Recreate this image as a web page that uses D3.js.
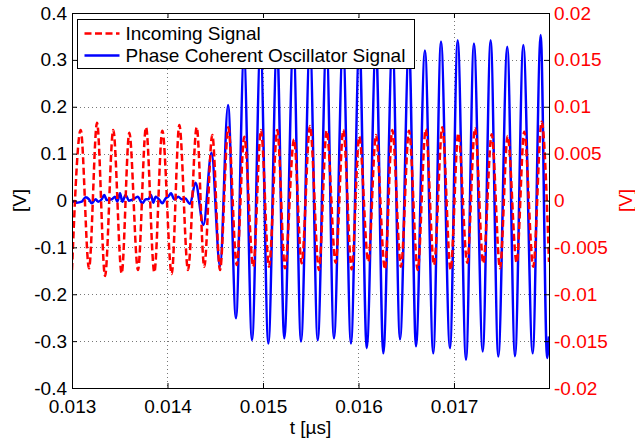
<!DOCTYPE html>
<html>
<head>
<meta charset="utf-8">
<script src="https://cdn.jsdelivr.net/npm/d3@7"></script>
<style>
  body { margin: 0; background: #fff; }
  svg { display: block; font-family: "Liberation Sans", Arial, Helvetica, sans-serif; }
</style>
</head>
<body>
<svg id="chart" width="635" height="439"></svg>
<script>
// x ticks (t in µs) and the two y axes
const xTicks = [0.013, 0.014, 0.015, 0.016, 0.017];
const leftTicks = [-0.4, -0.3, -0.2, -0.1, 0, 0.1, 0.2, 0.3, 0.4];
const rightTicks = [-0.02, -0.015, -0.01, -0.005, 0, 0.005, 0.01, 0.015, 0.02];

// Incoming signal (right axis), peaks and troughs
const incomingSignal = [
  [0.013000, -0.00741], [0.013091, 0.00752], [0.013178, -0.00723], [0.013262, 0.00830],
  [0.013346, -0.00805], [0.013432, 0.00752], [0.013520, -0.00777], [0.013600, 0.00723],
  [0.013691, -0.00741], [0.013775, 0.00781], [0.013862, -0.00766], [0.013946, 0.00745],
  [0.014044, -0.00784], [0.014124, 0.00805], [0.014215, -0.00741], [0.014306, 0.00781],
  [0.014385, -0.00706], [0.014469, 0.00699], [0.014550, -0.00741], [0.014637, 0.00781],
  [0.014725, -0.00688], [0.014804, 0.00681], [0.014898, -0.00706], [0.014979, 0.00752],
  [0.015063, -0.00706], [0.015150, 0.00752], [0.015230, -0.00723], [0.015325, 0.00653],
  [0.015405, -0.00670], [0.015492, 0.00795], [0.015586, -0.00741], [0.015667, 0.00745],
  [0.015761, -0.00663], [0.015841, 0.00752], [0.015929, -0.00734], [0.016008, 0.00681],
  [0.016103, -0.00653], [0.016183, 0.00699], [0.016277, -0.00734], [0.016354, 0.00752],
  [0.016445, -0.00706], [0.016529, 0.00745], [0.016620, -0.00741], [0.016704, 0.00760],
  [0.016791, -0.00688], [0.016878, 0.00781], [0.016965, -0.00741], [0.017045, 0.00717],
  [0.017139, -0.00663], [0.017220, 0.00770], [0.017307, -0.00670], [0.017395, 0.00706],
  [0.017482, -0.00723], [0.017562, 0.00688], [0.017656, -0.00663], [0.017736, 0.00734],
  [0.017830, -0.00706], [0.017918, 0.00841], [0.017995, -0.00656]
];

// Oscillator signal (left axis): noise first, then the locked oscillation
const oscillatorSignal = [
  [0.013000, -0.0004], [0.013049, -0.0046], [0.013102, -0.0025], [0.013143, 0.0068],
  [0.013178, 0.0025], [0.013206, -0.0060], [0.013248, 0.0025], [0.013275, -0.0025],
  [0.013311, 0.0025], [0.013338, 0.0117], [0.013363, 0.0011], [0.013416, 0.0025],
  [0.013450, 0.0082], [0.013474, -0.0025], [0.013503, 0.0153], [0.013527, -0.0025],
  [0.013562, 0.0117], [0.013597, -0.0004], [0.013642, 0.0025], [0.013688, 0.0082],
  [0.013736, -0.0060], [0.013772, 0.0025], [0.013799, 0.0025], [0.013827, 0.0117],
  [0.013851, -0.0046], [0.013876, 0.0082], [0.013911, 0.0025], [0.013946, -0.0060],
  [0.013981, 0.0046], [0.014008, 0.0082], [0.014037, 0.0153], [0.014071, 0.0025],
  [0.014113, 0.0082], [0.014149, 0.0025], [0.014183, 0.0046], [0.014236, -0.0075],
  [0.014293, 0.038], [0.014377, -0.052], [0.014461, 0.102], [0.014550, -0.141],
  [0.014634, 0.204], [0.014717, -0.251], [0.014801, 0.310], [0.014885, -0.298],
  [0.014974, 0.330], [0.015056, -0.305], [0.015147, 0.335], [0.015223, -0.294],
  [0.015319, 0.340], [0.015398, -0.301], [0.015492, 0.335], [0.015573, -0.298],
  [0.015665, 0.340], [0.015743, -0.294], [0.015838, 0.338], [0.015921, -0.305],
  [0.016010, 0.340], [0.016086, -0.315], [0.016183, 0.335], [0.016260, -0.326],
  [0.016356, 0.340], [0.016435, -0.296], [0.016529, 0.335], [0.016602, -0.311],
  [0.016696, 0.320], [0.016783, -0.326], [0.016864, 0.339], [0.016958, -0.315],
  [0.017039, 0.342], [0.017126, -0.340], [0.017209, 0.335], [0.017301, -0.322],
  [0.017384, 0.342], [0.017464, -0.333], [0.017558, 0.328], [0.017639, -0.332],
  [0.017726, 0.332], [0.017824, -0.326], [0.017908, 0.353], [0.017975, -0.336],
  [0.017995, -0.290]
];

const legendItems = [
  { label: 'Incoming Signal', color: '#ff0000', dash: '7,3.5' },
  { label: 'Phase Coherent Oscillator Signal', color: '#0000ff', dash: null }
];

const plotLeft = 72, plotRight = 549, plotTop = 13, plotBottom = 388;
const fontSize = 19;

const svg = d3.select('#chart');

const x = d3.scaleLinear().domain([0.013, 0.017995]).range([plotLeft, plotRight]);
const yL = d3.scaleLinear().domain([-0.4, 0.4]).range([plotBottom, plotTop]);
const yR = d3.scaleLinear().domain([-0.02, 0.02]).range([plotBottom, plotTop]);

const fmt = v => String(+v.toFixed(3));

// dotted grid
const grid = svg.append('g')
  .attr('stroke', '#777')
  .attr('stroke-width', 1)
  .attr('stroke-dasharray', '1,3');
grid.selectAll('.gx')
  .data(xTicks.slice(1))
  .join('line')
  .attr('x1', d => Math.round(x(d)) + 0.5)
  .attr('x2', d => Math.round(x(d)) + 0.5)
  .attr('y1', plotTop)
  .attr('y2', plotBottom);
grid.selectAll('.gy')
  .data(leftTicks.slice(1, -1))
  .join('line')
  .attr('x1', plotLeft)
  .attr('x2', plotRight)
  .attr('y1', d => Math.round(yL(d)) + 0.5)
  .attr('y2', d => Math.round(yL(d)) + 0.5);

// lines
svg.append('clipPath').attr('id', 'plot-clip')
  .append('rect')
  .attr('x', plotLeft).attr('y', plotTop)
  .attr('width', plotRight - plotLeft).attr('height', plotBottom - plotTop);

const plot = svg.append('g').attr('clip-path', 'url(#plot-clip)');

const blueLine = d3.line()
  .x(d => x(d[0]))
  .y(d => yL(d[1]))
  .curve(d3.curveMonotoneX);

const redLine = d3.line()
  .x(d => x(d[0]))
  .y(d => yR(d[1]))
  .curve(d3.curveMonotoneX);

plot.append('path')
  .datum(oscillatorSignal)
  .attr('d', blueLine)
  .attr('fill', 'none')
  .attr('stroke', '#0000ff')
  .attr('stroke-width', 2.5)
  .attr('stroke-linejoin', 'round');

plot.append('path')
  .datum(incomingSignal)
  .attr('d', redLine)
  .attr('fill', 'none')
  .attr('stroke', '#ff0000')
  .attr('stroke-width', 2.5)
  .attr('stroke-dasharray', '7,3.5');

// axes (ticks point inward)
const styleAxis = (g, color) => {
  g.select('.domain').remove();
  g.selectAll('.tick line').attr('stroke', '#000');
  g.selectAll('.tick text')
    .attr('fill', color)
    .attr('font-size', fontSize)
    .attr('font-family', null);
};

svg.append('g')
  .attr('transform', `translate(0,${plotBottom})`)
  .call(d3.axisBottom(x).tickValues(xTicks).tickFormat(fmt).tickSize(-5).tickSizeOuter(0).tickPadding(11.5))
  .call(g => styleAxis(g, '#000'));

svg.append('g')
  .attr('transform', `translate(0,${plotTop})`)
  .call(d3.axisTop(x).tickValues(xTicks).tickFormat('').tickSize(-5).tickSizeOuter(0))
  .call(g => styleAxis(g, '#000'));

svg.append('g')
  .attr('transform', `translate(${plotLeft},0)`)
  .call(d3.axisLeft(yL).tickValues(leftTicks).tickFormat(fmt).tickSize(-5).tickSizeOuter(0).tickPadding(5))
  .call(g => styleAxis(g, '#000'));

svg.append('g')
  .attr('transform', `translate(${plotRight},0)`)
  .call(d3.axisRight(yR).tickValues(rightTicks).tickFormat(fmt).tickSize(-5).tickSizeOuter(0).tickPadding(5))
  .call(g => styleAxis(g, '#ff0000'));

// plot box
svg.append('rect')
  .attr('x', plotLeft + 0.5).attr('y', plotTop + 0.5)
  .attr('width', plotRight - plotLeft).attr('height', plotBottom - plotTop)
  .attr('fill', 'none')
  .attr('stroke', '#000')
  .attr('stroke-width', 1);

// axis labels
svg.append('text')
  .attr('x', (plotLeft + plotRight) / 2)
  .attr('y', 434)
  .attr('text-anchor', 'middle')
  .attr('font-size', fontSize)
  .text('t [µs]');

svg.append('text')
  .attr('transform', `translate(19,${(plotTop + plotBottom) / 2}) rotate(-90)`)
  .attr('text-anchor', 'middle')
  .attr('dy', '0.35em')
  .attr('font-size', fontSize)
  .text('[V]');

svg.append('text')
  .attr('transform', `translate(625,${(plotTop + plotBottom) / 2}) rotate(-90)`)
  .attr('text-anchor', 'middle')
  .attr('dy', '0.35em')
  .attr('font-size', fontSize)
  .attr('fill', '#ff0000')
  .text('[V]');

// legend
const legend = svg.append('g').attr('transform', 'translate(77.5,19.5)');
legend.append('rect')
  .attr('width', 337)
  .attr('height', 49)
  .attr('fill', '#fff')
  .attr('stroke', '#000')
  .attr('stroke-width', 1);

const rows = legend.selectAll('g.row')
  .data(legendItems)
  .join('g')
  .attr('class', 'row')
  .attr('transform', (d, i) => `translate(0,${14 + i * 22})`);

rows.append('line')
  .attr('x1', 7).attr('x2', 42)
  .attr('stroke', d => d.color)
  .attr('stroke-width', 2.5)
  .attr('stroke-dasharray', d => d.dash);

rows.append('text')
  .attr('x', 48)
  .attr('dy', '0.35em')
  .attr('font-size', fontSize)
  .attr('fill', '#000')
  .text(d => d.label);
</script>
</body>
</html>
